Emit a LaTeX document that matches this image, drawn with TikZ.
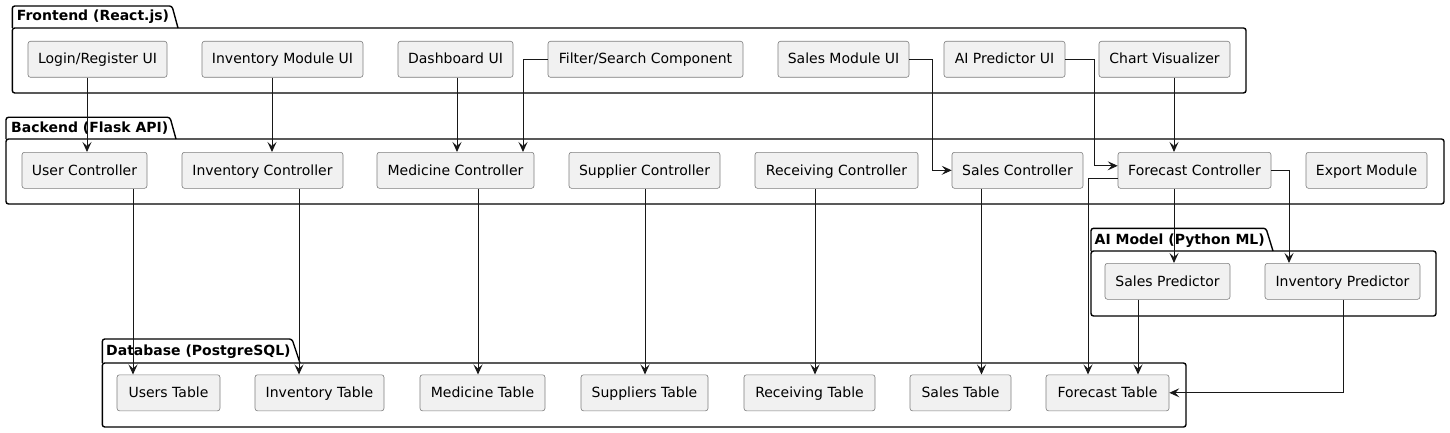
\documentclass[tikz,border=0pt]{standalone}
\usepackage{fontspec}
\setmainfont{DejaVu Sans}
\usetikzlibrary{arrows.meta}
\definecolor{boxfill}{RGB}{241,241,241}
\definecolor{boxline}{RGB}{125,125,125}
\definecolor{linkcol}{RGB}{24,24,24}
\tikzset{
	box/.style={draw=boxline, line width=0.6pt, fill=boxfill, rounded corners=2.5pt, minimum height=36pt, inner sep=0pt, text height=10.5pt, text depth=1.1pt, font=\fontsize{14pt}{16pt}\selectfont, text=black},
	pkg/.style={draw=black, line width=1.4pt, rounded corners=2.5pt},
	pkgtitle/.style={anchor=base west, inner sep=0pt, font=\bfseries\fontsize{14pt}{16pt}\selectfont},
	link/.style={draw=linkcol, line width=0.9pt, -{Stealth[length=10pt,width=9pt,inset=4pt]}}
}

\begin{document}
\begin{tikzpicture}[x=1pt,y=-1pt]
\useasboundingbox (0,0) rectangle (1450,433);
\pgfmathsetmacro{\frontrow}{59.3}
\pgfmathsetmacro{\backrow}{170.3}
\pgfmathsetmacro{\airow}{281.3}
\pgfmathsetmacro{\dbrow}{392.8}

% packages
\draw[pkg] (12.3,28) -- (12.3,6) -- (172,6) -- (178,28);
\draw[pkg] (12.3,28) rectangle (1246,93);
\node[pkgtitle] (tFront) at (16.7,20.7) {Frontend (React.js)};

\draw[pkg] (6,139) -- (6,117.3) -- (170,117.3) -- (176,139);
\draw[pkg] (6,139) rectangle (1444,204);
\node[pkgtitle] (tBack) at (11,132.3) {Backend (Flask API)};

\draw[pkg] (1091,251) -- (1091,228.3) -- (1266,228.3) -- (1273,251);
\draw[pkg] (1091,251) rectangle (1436,316);
\node[pkgtitle] (tAI) at (1094.5,244.3) {AI Model (Python ML)};

\draw[pkg] (102.3,363) -- (102.3,339) -- (292,339) -- (300,363);
\draw[pkg] (102.3,363) rectangle (1186,427);
\node[pkgtitle] (tDB) at (106,355) {Database (PostgreSQL)};

% boxes
\foreach \name/\xc/\w/\txt in {fLogin/97.5/139/{Login/Register UI}, fInventory/282.5/161/{Inventory Module UI}, fDashboard/455.5/115/{Dashboard UI}, fFilter/645.5/195/{Filter/Search Component}, fSales/843.5/131/{Sales Module UI}, fPredictor/1004.5/121/{AI Predictor UI}, fChart/1164.5/131/{Chart Visualizer}}
	\node[box, minimum width=\w pt] (\name) at (\xc,\frontrow) {\txt};

\foreach \name/\xc/\w/\txt in {bUser/84.5/125/{User Controller}, bInventory/262.5/161/{Inventory Controller}, bMedicine/455.5/157/{Medicine Controller}, bSupplier/644.5/151/{Supplier Controller}, bReceiving/836.5/163/{Receiving Controller}, bSales/1017.5/131/{Sales Controller}, bForecast/1194.5/153/{Forecast Controller}, bExport/1366.5/121/{Export Module}}
	\node[box, minimum width=\w pt] (\name) at (\xc,\backrow) {\txt};

\foreach \name/\xc/\w/\txt in {aSales/1167.5/125/{Sales Predictor}, aInventory/1342.5/155/{Inventory Predictor}}
	\node[box, minimum width=\w pt] (\name) at (\xc,\airow) {\txt};

\foreach \name/\xc/\w/\txt in {dUsers/168.5/103/{Users Table}, dInventory/319.5/129/{Inventory Table}, dMedicine/482.5/125/{Medicine Table}, dSuppliers/644.5/127/{Suppliers Table}, dReceiving/809.5/131/{Receiving Table}, dSales/960.5/101/{Sales Table}, dForecast/1107.5/123/{Forecast Table}}
	\node[box, minimum width=\w pt] (\name) at (\xc,\dbrow) {\txt};

% links
\foreach \from/\dx/\to in {fLogin/-10.5/bUser, fInventory/-10.5/bInventory, fDashboard/1.5/bMedicine, fChart/9.5/bForecast, bUser/48.5/dUsers, bInventory/36.5/dInventory, bMedicine/22.5/dMedicine, bSupplier/0.5/dSuppliers, bReceiving/-21.5/dReceiving, bSales/-36/dSales, bForecast/-20.5/aSales, aSales/-29.5/dForecast}
	\draw[link] ([xshift=\dx pt]\from.south) -- ([xshift=\dx pt]\from.south |- \to.north);

\draw[link] (fFilter.west) -| ([xshift=67.5pt]bMedicine.north);
\draw[link] (fSales.east) -- ++(23,0) |- (bSales.west);
\draw[link] (fPredictor.east) -- ++(29,0) |- ([yshift=4.5pt]bForecast.west);
\draw[link] ([yshift=-8pt]bForecast.west) -| ([xshift=-19.5pt]dForecast.north);
\draw[link] (bForecast.east) -| ([xshift=-53.5pt]aInventory.north);
\draw[link] ([xshift=0.5pt]aInventory.south) |- (dForecast.east);
\end{tikzpicture}
\end{document}
